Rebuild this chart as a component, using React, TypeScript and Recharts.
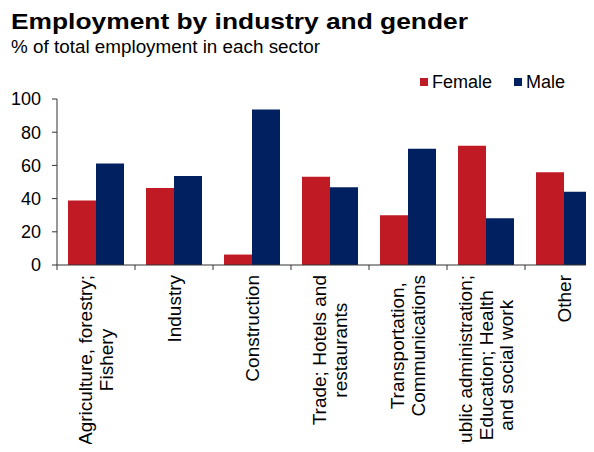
import { BarChart, Bar, XAxis, YAxis, Legend } from "recharts";

const sectors = [
  "Agriculture, forestry;\nFishery",
  "Industry",
  "Construction",
  "Trade; Hotels and\nrestaurants",
  "Transportation,\nCommunications",
  "Public administration;\nEducation; Health\nand social work",
  "Other",
];
const female = [38.8, 46.4, 6.3, 53.2, 30.0, 71.8, 55.8];
const male = [61.2, 53.6, 93.7, 46.8, 70.0, 28.2, 44.2];
const yTicks = [0, 20, 40, 60, 80, 100];

const RED = "#C01B24";
const NAVY = "#002060";
const FONT = "'Liberation Sans', Arial, sans-serif";

const CHART_W = 620;
const CHART_H = 452;
const PLOT_LEFT = 57;
const PLOT_RIGHT = 17;
const BAND = (CHART_W - PLOT_LEFT - PLOT_RIGHT) / sectors.length;

const data = sectors.map((s, i) => ({ sector: s, Female: female[i], Male: male[i] }));

let ctx: CanvasRenderingContext2D | null = null;
function measure(text: string, font: string) {
  if (!ctx) ctx = document.createElement("canvas").getContext("2d");
  if (!ctx) return text.length * 9;
  ctx.font = font;
  return ctx.measureText(text).width;
}

// rotated multi-line category label, lines centred on each other, block hanging from the axis
function SectorTick(props: any) {
  const { x, y, payload, index } = props;
  const lines: string[] = String(payload.value).split("\n");
  const fontSize = 19;
  const w = Math.max(...lines.map((l) => measure(l, `${fontSize}px ${FONT}`)));
  const lh = 20.5;
  const top = y + 10;
  const left = x - BAND / 2;
  return (
    <g>
      <line x1={left} y1={y} x2={left} y2={y + 5} stroke="#333" />
      {index === sectors.length - 1 && (
        <line x1={left + BAND} y1={y} x2={left + BAND} y2={y + 5} stroke="#333" />
      )}
      <g transform={`translate(${x}, ${top}) rotate(-90)`}>
        {lines.map((l, i) => (
          <text
            key={i}
            x={-w / 2}
            y={(i - (lines.length - 1) / 2) * lh}
            dy="0.35em"
            textAnchor="middle"
            fontSize={fontSize}
            fontFamily={FONT}
            fill="#000"
          >
            {l}
          </text>
        ))}
      </g>
    </g>
  );
}

function GenderLegend() {
  const item = (color: string, label: string, ml: number) => (
    <span style={{ display: "inline-flex", alignItems: "center", marginLeft: ml }}>
      <span style={{ width: 8, height: 8, background: color, display: "inline-block", marginRight: 4 }} />
      <span>{label}</span>
    </span>
  );
  return (
    <div style={{ fontFamily: FONT, fontSize: 18, color: "#000", display: "flex", lineHeight: "20px" }}>
      {item(RED, "Female", 0)}
      {item(NAVY, "Male", 22)}
    </div>
  );
}

export default function App() {
  return (
    <div style={{ position: "relative", margin: -8, width: 594, height: 452, overflow: "hidden", background: "#fff" }}>
      <svg width={594} height={60} style={{ position: "absolute", left: 0, top: 0 }}>
        <text
          x={11}
          y={29}
          fontFamily={FONT}
          fontSize={22.5}
          fontWeight="bold"
          fill="#000"
          textLength={457}
          lengthAdjust="spacingAndGlyphs"
        >
          Employment by industry and gender
        </text>
        <text
          x={11}
          y={53}
          fontFamily={FONT}
          fontSize={17.5}
          fill="#000"
          textLength={309}
          lengthAdjust="spacingAndGlyphs"
        >
          % of total employment in each sector
        </text>
      </svg>
      <BarChart
        width={CHART_W}
        height={CHART_H}
        data={data}
        margin={{ top: 79, right: PLOT_RIGHT, bottom: 0, left: 0 }}
        barCategoryGap={11}
        barGap={0}
      >
        <YAxis
          domain={[0, 100]}
          ticks={yTicks}
          width={PLOT_LEFT}
          tickSize={5}
          tickMargin={11}
          axisLine={{ stroke: "#333" }}
          tickLine={{ stroke: "#333" }}
          tick={{ fontSize: 18, fontFamily: FONT, fill: "#000" }}
        />
        <XAxis
          dataKey="sector"
          height={187}
          interval={0}
          axisLine={{ stroke: "#333" }}
          tickLine={false}
          tickSize={0}
          tickMargin={0}
          tick={<SectorTick />}
        />
        <Legend
          verticalAlign="top"
          content={<GenderLegend />}
          wrapperStyle={{ position: "absolute", top: 72, left: 420, width: "auto" }}
        />
        <Bar dataKey="Female" fill={RED} isAnimationActive={false} />
        <Bar dataKey="Male" fill={NAVY} isAnimationActive={false} />
      </BarChart>
    </div>
  );
}
